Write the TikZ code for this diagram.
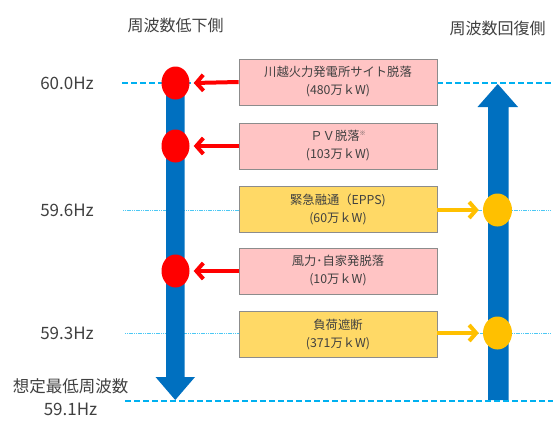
\documentclass[tikz,border=0pt]{standalone}
\usepackage{fontspec}
\setmainfont{Noto Sans CJK JP}
\usetikzlibrary{arrows.meta,shapes.geometric}
\definecolor{txt}{HTML}{404040}
\definecolor{bluearr}{HTML}{0070C0}
\definecolor{cyanl}{HTML}{00B0F0}
\definecolor{pinkf}{HTML}{FFC4C4}
\definecolor{yellf}{HTML}{FFD966}
\definecolor{boxd}{HTML}{8C8C8C}
\definecolor{redc}{HTML}{FF0000}
\definecolor{orc}{HTML}{FFC000}
\tikzset{
  lbl/.style={text=txt, font=\fontsize{17}{20}\selectfont, inner sep=0pt},
  ttl/.style={text=txt, font=\fontsize{16}{19}\selectfont, inner sep=0pt},
  ev/.style={draw=boxd, line width=0.8pt, minimum width=198pt, minimum height=46pt, inner sep=0pt, align=center, text=txt, font=\fontsize{12.3}{18}\selectfont},
  pinkbox/.style={ev, fill=pinkf},
  yellbox/.style={ev, fill=yellf},
  reddot/.style={ellipse, fill=redc, minimum width=28pt, minimum height=33pt, inner sep=0pt},
  ordot/.style={ellipse, fill=orc, minimum width=29pt, minimum height=33pt, inner sep=0pt},
  redarr/.style={draw=redc, line width=4pt, -{Straight Barb[length=7pt, width=16pt, line width=4pt]}},
  orarr/.style={draw=orc, line width=4pt, -{Straight Barb[length=7pt, width=16pt, line width=4pt]}},
  thick dash/.style={draw=cyanl, line width=2.2pt, dash pattern=on 6pt off 3pt},
  thin dot/.style={draw=cyanl!70, line width=1pt, dash pattern=on 1.2pt off 0.6pt},
}
\begin{document}
\begin{tikzpicture}[x=1pt, y=-1pt]
\useasboundingbox (0,0) rectangle (553,420);
% titles
\node[ttl] (t1) at (175.5,25) {周波数低下側};
\node[ttl] (t2) at (497.5,28) {周波数回復側};
% frequency labels
\node[lbl] (f60) at (67,83) {60.0Hz};
\node[lbl] (f596) at (67,210) {59.6Hz};
\node[lbl] (f593) at (67,333) {59.3Hz};
\node[lbl, font=\fontsize{16.5}{19}\selectfont] (fmin) at (70.5,386) {想定最低周波数};
\node[lbl] (f591) at (70.5,409) {59.1Hz};
% thin level lines (behind)
\coordinate (l596a) at (123,210); \coordinate (l596b) at (550,210);
\coordinate (l593a) at (125,333); \coordinate (l593b) at (550,333);
\draw[thin dot] (l596a) -- (l596b);
\draw[thin dot] (l593a) -- (l593b);
% blue arrows
\fill[bluearr] (166,85) -- (184.5,85) -- (184.5,377) -- (195,377) -- (175.25,400) -- (155.5,377) -- (166,377) -- cycle;
\fill[bluearr] (488,400) -- (508.5,400) -- (508.5,107) -- (518,107) -- (497.75,84) -- (477.5,107) -- (488,107) -- cycle;
% thick level lines
\coordinate (l60a) at (122,83); \coordinate (l60b) at (553,83);
\coordinate (l591a) at (125,401); \coordinate (l591b) at (553,401);
\draw[thick dash] (l60a) -- (l60b);
\draw[thick dash] (l591a) -- (l591b);
% boxes
\node[pinkbox] (b1) at (338,82) {川越火力発電所サイト脱落\\(480万ｋW)};
\node[pinkbox] (b2) at (338,146) {ＰＶ脱落{\fontsize{6}{6}\selectfont\raisebox{5pt}{※}}\\(103万ｋW)};
\node[yellbox] (b3) at (338,209) {緊急融通（EPPS)\\(60万ｋW)};
\node[pinkbox] (b4) at (338,271) {風力･自家発脱落\\(10万ｋW)};
\node[yellbox] (b5) at (338,334.5) {負荷遮断\\(371万ｋW)};
% dots
\node[reddot] (r1) at (175.5,83) {};
\node[reddot] (r2) at (175.5,146) {};
\node[reddot] (r3) at (175.5,271) {};
\node[ordot] (o1) at (497.5,210) {};
\node[ordot] (o2) at (497.5,333) {};
% arrows
\draw[redarr] (b1.west) -- ([xshift=4pt]r1.east);
\draw[redarr] (b2.west) -- ([xshift=4pt]r2.east);
\draw[redarr] (b4.west |- r3) -- ([xshift=4pt]r3.east);
\draw[orarr] (b3.east |- o1) -- ([xshift=-4pt]o1.west);
\draw[orarr] (b5.east |- o2) -- ([xshift=-4pt]o2.west);
\end{tikzpicture}
\end{document}
